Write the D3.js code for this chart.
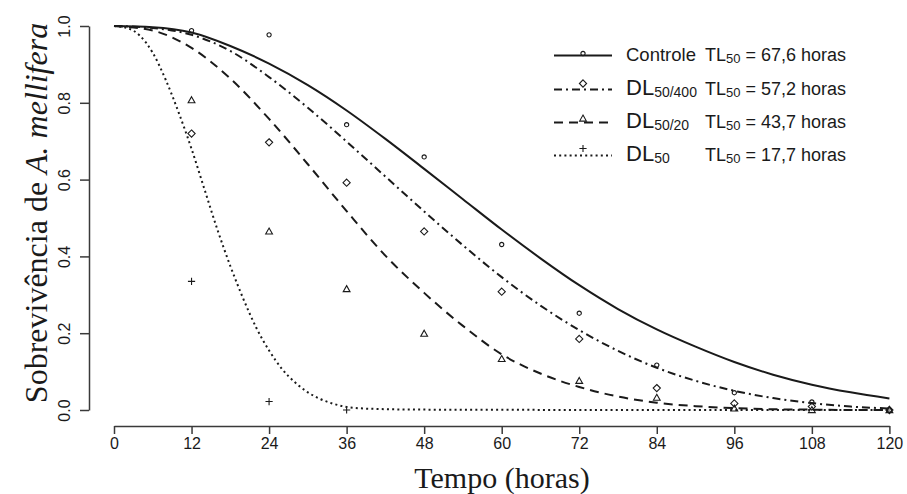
<!DOCTYPE html>
<html>
<head>
<meta charset="utf-8">
<script src="https://cdn.jsdelivr.net/npm/d3@7"></script>
<style>
  html, body { margin: 0; padding: 0; background: #fff; }
  svg { display: block; }
</style>
</head>
<body>
<svg id="chart" width="907" height="494"></svg>
<script>
// Observation times (hours) and tick labels
const obsTimes = [12, 24, 36, 48, 60, 72, 84, 96, 108, 120];
const xTicks = [0, 12, 24, 36, 48, 60, 72, 84, 96, 108, 120];
const yTicks = [0, 0.2, 0.4, 0.6, 0.8, 1.0];

// Observed survival proportions
const controleObs = [0.988, 0.977, 0.743, 0.659, 0.431, 0.252, 0.117, 0.045, 0.021, 0.0];
const dl400Obs    = [0.72, 0.697, 0.592, 0.465, 0.308, 0.185, 0.057, 0.017, 0.009, 0.0];
const dl20Obs     = [0.807, 0.465, 0.315, 0.199, 0.133, 0.076, 0.032, 0.004, 0.0, 0.0];
const dl50Times   = [12, 24, 36];
const dl50Obs     = [0.335, 0.022, 0.0];

// Fitted survival curves
const curveTimes = [0, 6, 12, 18, 24, 30, 36, 42, 48, 54, 60, 66, 72, 78, 84, 90, 96, 102, 108, 114, 120];
const controleFit = [1.0, 0.997, 0.983, 0.948, 0.902, 0.846, 0.780, 0.706, 0.628, 0.549, 0.470, 0.395, 0.325, 0.263, 0.21, 0.165, 0.125, 0.092, 0.066, 0.046, 0.03];
const dl400Fit    = [1.0, 0.995, 0.977, 0.935, 0.867, 0.787, 0.699, 0.608, 0.517, 0.429, 0.346, 0.272, 0.208, 0.154, 0.110, 0.076, 0.050, 0.031, 0.018, 0.009, 0.004];
const dl20Fit     = [1.0, 0.988, 0.943, 0.863, 0.758, 0.640, 0.518, 0.402, 0.305, 0.219, 0.145, 0.095, 0.06, 0.035, 0.019, 0.01, 0.005, 0.002, 0.001, 0.0, 0.0];
const dl50FitTimes = [0, 2, 4, 6, 8, 10, 12, 14, 16, 18, 20, 22, 24, 26, 28, 30, 32, 34, 36, 40, 48, 60, 84, 120];
const dl50Fit      = [1.0, 0.995, 0.975, 0.93, 0.86, 0.775, 0.68, 0.575, 0.47, 0.375, 0.29, 0.215, 0.155, 0.107, 0.072, 0.046, 0.028, 0.016, 0.008, 0.003, 0.001, 0.0005, 0.0, 0.0];

// Legend texts
const legendNames = ["Controle", "DL", "DL", "DL"];
const legendSubs  = ["", "50/400", "50/20", "50"];
const legendTL    = ["67,6", "57,2", "43,7", "17,7"];

const series = [
  { fitX: curveTimes,   fitY: controleFit, obsX: obsTimes,  obsY: controleObs, dash: null,       shape: "circle" },
  { fitX: curveTimes,   fitY: dl400Fit,    obsX: obsTimes,  obsY: dl400Obs,    dash: "8,4,2,4",  shape: "diamond" },
  { fitX: curveTimes,   fitY: dl20Fit,     obsX: obsTimes,  obsY: dl20Obs,     dash: "9,6",      shape: "triangle" },
  { fitX: dl50FitTimes, fitY: dl50Fit,     obsX: dl50Times, obsY: dl50Obs,     dash: "2,3.2",    shape: "plus" }
];

const svg = d3.select("#chart");
const ink = "#1a1a1a";
const axisInk = "#3a3a3a";
const sans = "'Liberation Sans', Arial, sans-serif";
const serif = "'Liberation Serif', 'Times New Roman', serif";

const x = d3.scaleLinear().domain([0, 120]).range([114, 889.4]);
const y = d3.scaleLinear().domain([0, 1]).range([410, 26]);
const xAxisY = 426;
const yAxisX = 89;

// Axes
const gx = svg.append("g")
  .attr("transform", `translate(0,${xAxisY})`)
  .call(d3.axisBottom(x).tickValues(xTicks).tickSize(8).tickSizeOuter(0).tickPadding(4));
gx.select(".domain").attr("stroke", axisInk).attr("stroke-width", 1.5);
gx.selectAll(".tick line").attr("stroke", axisInk).attr("stroke-width", 1.5);
gx.selectAll(".tick text").attr("font-family", sans).attr("font-size", 16).attr("fill", ink);

const gy = svg.append("g")
  .attr("transform", `translate(${yAxisX},0)`)
  .call(d3.axisLeft(y).tickValues(yTicks).tickFormat(d3.format(".1f")).tickSize(9).tickSizeOuter(0));
gy.select(".domain").attr("stroke", axisInk).attr("stroke-width", 1.5);
gy.selectAll(".tick line").attr("stroke", axisInk).attr("stroke-width", 1.5);
gy.selectAll(".tick text")
  .attr("font-family", sans).attr("font-size", 16).attr("fill", ink)
  .attr("x", 0).attr("dy", 0)
  .attr("text-anchor", "middle")
  .attr("transform", "translate(-19,0) rotate(-90)");

// Axis titles
svg.append("text")
  .attr("x", 502).attr("y", 488)
  .attr("text-anchor", "middle")
  .attr("font-family", serif).attr("font-size", 30).attr("fill", ink)
  .text("Tempo (horas)");

const yTitle = svg.append("text")
  .attr("transform", "translate(47,213) rotate(-90)")
  .attr("text-anchor", "middle")
  .attr("font-family", serif).attr("font-size", 32).attr("fill", ink);
yTitle.append("tspan").text("Sobrevivência de ");
yTitle.append("tspan").attr("font-style", "italic").text("A. mellifera");

// Marker shapes
function drawMarker(g, shape, cx, cy) {
  const s = g.append("path")
    .attr("fill", "none").attr("stroke", ink).attr("stroke-width", 1.1)
    .attr("transform", `translate(${cx},${cy})`);
  if (shape === "circle") s.attr("d", d3.symbol(d3.symbolCircle, 14)());
  else if (shape === "diamond") s.attr("d", "M0,-3.6L3.6,0L0,3.6L-3.6,0Z");
  else if (shape === "triangle") s.attr("d", "M0,-3.4L3.4,2.6L-3.4,2.6Z");
  else s.attr("d", "M-3.6,0H3.6M0,-3.6V3.6");
}

// Curves and observations
const line = d3.line().curve(d3.curveMonotoneX);
series.forEach(sr => {
  const pts = sr.fitX.map((t, i) => [x(t), y(sr.fitY[i])]);
  const p = svg.append("path")
    .attr("d", line(pts))
    .attr("fill", "none").attr("stroke", ink).attr("stroke-width", 2);
  if (sr.dash) p.attr("stroke-dasharray", sr.dash);
  const g = svg.append("g");
  sr.obsX.forEach((t, i) => drawMarker(g, sr.shape, x(t), y(sr.obsY[i])));
});

// Legend
const legBase = [61, 95, 128, 161];
const legMarkOff = [-2, -6, -4, -7];
series.forEach((sr, i) => {
  const ly = legBase[i] - 5.5;
  const l = svg.append("line")
    .attr("x1", 554).attr("x2", 612).attr("y1", ly).attr("y2", ly)
    .attr("stroke", ink).attr("stroke-width", 2);
  if (sr.dash) l.attr("stroke-dasharray", sr.dash);
  drawMarker(svg.append("g"), sr.shape, 583, ly + legMarkOff[i]);

  const t = svg.append("text")
    .attr("x", 626).attr("y", legBase[i])
    .attr("font-family", sans).attr("fill", ink);
  if (i === 0) {
    t.attr("font-size", 18.5).text(legendNames[i]);
  } else {
    t.append("tspan").attr("font-size", 22).text(legendNames[i]);
    t.append("tspan").attr("font-size", 14).attr("dy", 2).text(legendSubs[i]);
  }

  const tl = svg.append("text")
    .attr("x", 846).attr("y", legBase[i])
    .attr("text-anchor", "end")
    .attr("font-family", sans).attr("font-size", 18).attr("fill", ink);
  tl.append("tspan").text("TL");
  tl.append("tspan").attr("font-size", 13).attr("dy", 2).text("50");
  tl.append("tspan").attr("dy", -2).text(` = ${legendTL[i]} horas`);
});
</script>
</body>
</html>
